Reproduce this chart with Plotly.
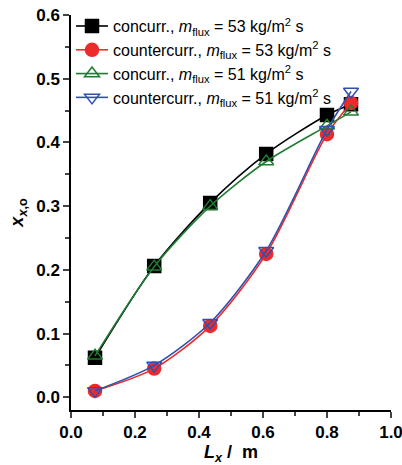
import plotly.graph_objects as go

L = [0.075, 0.26, 0.435, 0.61, 0.80, 0.875]
co53 = [0.062, 0.206, 0.305, 0.382, 0.443, 0.460]
cc53 = [0.010, 0.045, 0.112, 0.225, 0.413, 0.462]
co51 = [0.065, 0.205, 0.300, 0.370, 0.426, 0.448]
cc51 = [0.010, 0.050, 0.117, 0.230, 0.420, 0.480]

names = [
    "concurr., <i>m</i><sub>flux</sub> = 53 kg/m<sup>2</sup> s",
    "countercurr., <i>m</i><sub>flux</sub> = 53 kg/m<sup>2</sup> s",
    "concurr., <i>m</i><sub>flux</sub> = 51 kg/m<sup>2</sup> s",
    "countercurr., <i>m</i><sub>flux</sub> = 51 kg/m<sup>2</sup> s",
]

fig = go.Figure()
specs = [
    (co53, "#000000", "square", "#000000"),
    (cc53, "#ee2a2a", "circle", "#ee2a2a"),
    (co51, "#1e7d32", "triangle-up-open", "#1e7d32"),
    (cc51, "#3050b0", "triangle-down-open", "#3050b0"),
]
for (ys, col, sym, mc), nm in zip(specs, names):
    fig.add_trace(go.Scatter(
        x=L, y=ys, name=nm, mode="lines+markers",
        line=dict(color=col, width=1.6, shape="spline", smoothing=0.8),
        marker=dict(symbol=sym, size=13, color=mc, line=dict(color=col, width=1.5)),
    ))

tickfont = dict(size=17, family="Liberation Sans, Arial", weight="bold")
fig.update_layout(
    width=402, height=465,
    margin=dict(l=71, r=11, t=15, b=55, autoexpand=False),
    plot_bgcolor="white", paper_bgcolor="white",
    font=dict(family="Liberation Sans, Arial, sans-serif", size=15, color="black"),
    showlegend=True,
    legend=dict(x=0.0, y=1.015, xanchor="left", yanchor="top",
                bgcolor="rgba(0,0,0,0)", font=dict(size=16),
                tracegroupgap=0, itemwidth=32),
    xaxis=dict(range=[0, 1.0], showline=True, linecolor="black", linewidth=1.5,
               ticks="outside", ticklen=6, tickwidth=1.5, dtick=0.2, tick0=0,
               tickformat=".1f", showgrid=False, zeroline=False, automargin=False,
               ticklabeloverflow="allow",
               tickfont=tickfont,
               minor=dict(dtick=0.1, ticks="outside", ticklen=4, tickwidth=1.5),
               title=dict(text="<b><i>L</i><sub><i>x</i></sub> /  m</b>", font=dict(size=18), standoff=4)),
    yaxis=dict(range=[-0.02, 0.6], showline=True, linecolor="black", linewidth=1.5,
               ticks="outside", ticklen=6, tickwidth=1.5, dtick=0.1, tick0=0,
               tickformat=".1f", showgrid=False, zeroline=False, automargin=False,
               ticklabeloverflow="allow",
               tickfont=tickfont,
               minor=dict(dtick=0.05, ticks="outside", ticklen=4, tickwidth=1.5),
               title=dict(text="<b><i>x</i><sub><i>x</i>,o</sub></b>", font=dict(size=18), standoff=8)),
)

fig.write_html("out.html", config={"displayModeBar": False},
               post_script="document.body.style.margin='0';")
